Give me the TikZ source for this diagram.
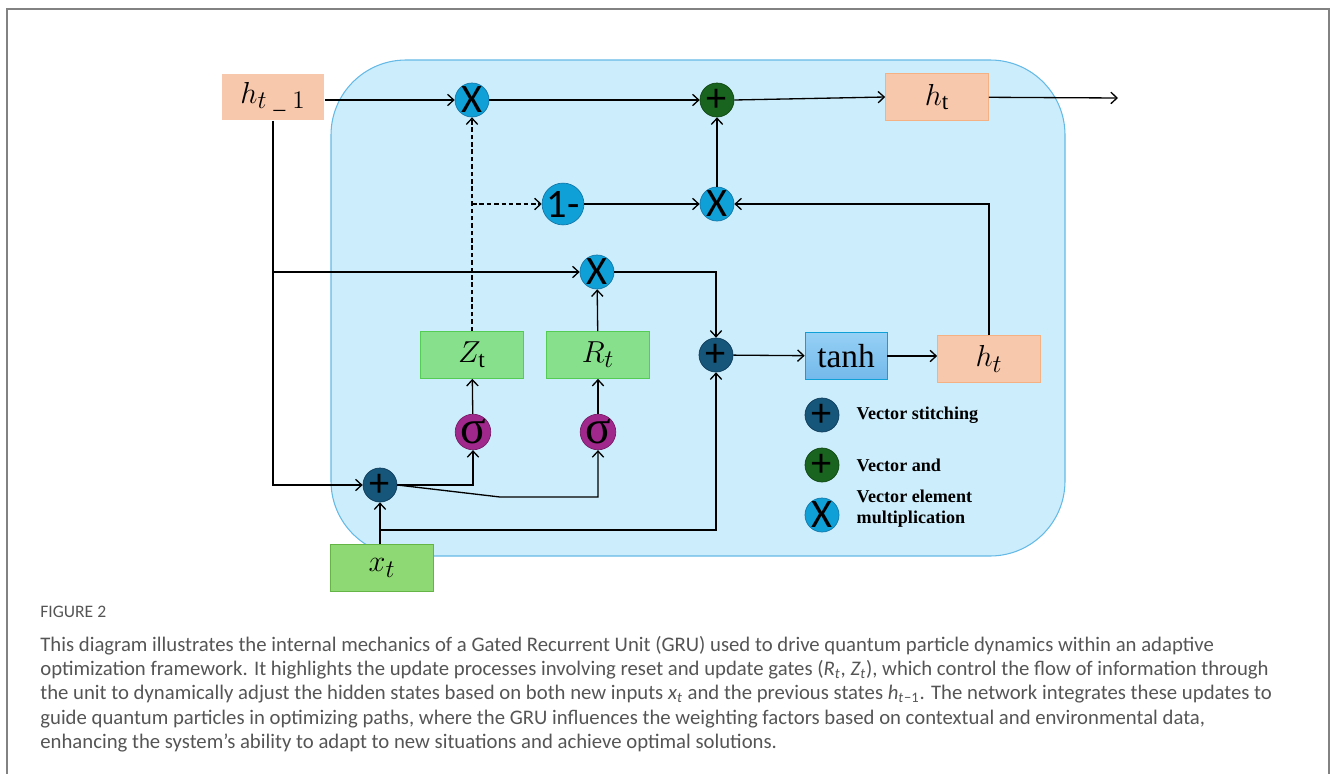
\documentclass[tikz,border=0pt]{standalone}
\usepackage{amsmath}
\usepackage{fontspec}
\setmainfont{Liberation Serif}
\newfontfamily\opfont{Carlito}
\newfontfamily\capfont{Carlito}
\usetikzlibrary{arrows.meta, positioning}
\definecolor{gruSky}{RGB}{204,237,251}
\definecolor{gruSkyLine}{RGB}{100,185,230}
\definecolor{gruSalmon}{RGB}{248,200,172}
\definecolor{gruSalmonLine}{RGB}{244,177,131}
\definecolor{gruGreen}{RGB}{135,225,140}
\definecolor{gruGreenLine}{RGB}{85,205,85}
\definecolor{gruLime}{RGB}{142,217,115}
\definecolor{gruLimeLine}{RGB}{100,180,70}
\definecolor{gruCyan}{RGB}{15,160,215}
\definecolor{gruCyanLine}{RGB}{20,120,170}
\definecolor{gruNavy}{RGB}{22,86,122}
\definecolor{gruNavyLine}{RGB}{15,60,90}
\definecolor{gruForest}{RGB}{25,100,30}
\definecolor{gruForestLine}{RGB}{15,70,20}
\definecolor{gruPurple}{RGB}{160,40,140}
\definecolor{gruPurpleLine}{RGB}{120,30,105}
\definecolor{gruFrame}{RGB}{130,130,130}
\definecolor{gruText}{RGB}{85,85,85}

\begin{document}
\begin{tikzpicture}[
      x=0.02cm, y=-0.02cm,
      box/.style={rectangle, draw, minimum width=2.06cm, minimum height=0.94cm,
        inner sep=0pt, font=\fontsize{19}{22}\selectfont},
      hbox/.style={box, fill=gruSalmon, draw=gruSalmonLine},
      gbox/.style={box, fill=gruGreen, draw=gruGreenLine},
      op/.style={circle, draw, minimum size=0.68cm, inner sep=0pt,
        font=\opfont\fontsize{23}{23}\selectfont},
      mult/.style={op, fill=gruCyan, draw=gruCyanLine},
      stitch/.style={op, fill=gruNavy, draw=gruNavyLine},
      vadd/.style={op, fill=gruForest, draw=gruForestLine},
      sig/.style={op, fill=gruPurple, draw=gruPurpleLine, font=\fontsize{27}{27}\selectfont},
      arrow/.style={-{Straight Barb[length=3.5pt,width=6.5pt]}, line width=0.75pt},
      gateline/.style={dash pattern=on 2.6pt off 1.6pt},
      legend/.style={font=\bfseries\fontsize{10.3}{12}\selectfont, align=left, inner sep=0pt},
      caption/.style={anchor=west, inner sep=0pt, text=gruText,
        font=\capfont\fontsize{11.8}{13}\selectfont}
    ]
      \useasboundingbox (0,0) rectangle (1332,774);

      % Frame and cell
      \draw[gruFrame, line width=1.1pt] (7,774) -- (7,9) -- (1329,9) -- (1329,774);
      \draw[fill=gruSky, draw=gruSkyLine, line width=0.6pt, rounded corners=1.5cm]
        (331,60) rectangle (1065,556);

      % States
      \node[hbox, draw=none] (hprev) at (273,97) {$h_{t\;\text{\_}\;1}$};
      \node[hbox] (hnew) at (937,97) {$h_{\mathrm{t}}$};
      \node[hbox] (hcand) at (989,359) {$h_t$};
      \node[box, fill=gruLime, draw=gruLimeLine] (xt) at (382,568) {$x_t$};

      % Gates
      \node[gbox] (zt) at (472,355) {$Z_{\mathrm{t}}$};
      \node[gbox] (rt) at (598,355) {$R_t$};
      \node[box, top color={rgb,255:red,150;green,208;blue,245},
        bottom color={rgb,255:red,115;green,185;blue,235}, draw=gruCyan,
        minimum width=1.64cm, font=\fontsize{19}{22}\selectfont] (tanh) at (846,356) {tanh};

      % Operations
      \node[mult] (x1) at (472,100) {X};
      \node[vadd] (add) at (717,100) {+};
      \node[mult] (one) at (563,204) {1-};
      \node[mult] (x2) at (717,204) {X};
      \node[mult] (x3) at (597,272) {X};
      \node[stitch] (sc) at (716,355) {+};
      \node[sig] (sig1) at (473,432) {σ};
      \node[sig] (sig2) at (598,432) {σ};
      \node[stitch] (sx) at (380,485) {+};

      % Draw arrows
      \coordinate (out) at (1118,98);
      \draw[arrow] (hprev.east |- x1.west) -- (x1.west);
      \draw[arrow] (x1) -- (add);
      \draw[arrow] (add.east) -- (hnew.west);
      \draw[arrow] (hnew) -- (out);
      \draw[arrow] (x2) -- (add);
      \draw[arrow] (one) -- (x2);
      \draw[arrow] (hcand.north) |- (x2.east);
      \draw[arrow, gateline] (zt.north) -- (x1.south);
      \coordinate (zsplit) at (zt.north |- one.west);
      \draw[arrow, gateline] (zsplit) -- (one.west);
      \draw[arrow] (hprev.south) |- (sx.west);
      \coordinate (hsplit) at (hprev.south |- x3.west);
      \draw[arrow] (hsplit) -- (x3.west);
      \draw[arrow] (x3.east) -| (sc.north);
      \draw[arrow] (rt) -- (x3);
      \draw[arrow] (sc) -- (tanh);
      \draw[arrow] (tanh.east) -- (hcand.west |- tanh.east);
      \draw[arrow] (sig1) -- (zt);
      \draw[arrow] (sig2) -- (rt);
      \draw[arrow] (sx.east) -| (sig1.south);
      \coordinate (bend) at (500,497);
      \draw[arrow] (sx.east) -- (bend) -| (sig2.south);
      \draw[arrow] (xt.north -| sx.south) -- (sx.south);
      \coordinate (xsplit) at (381,530);
      \draw[arrow] (xsplit) -| (sc.south);

      % Legend
      \node[stitch] (lg1) at (822,415) {+};
      \node[vadd] (lg2) at (822,465) {+};
      \node[mult] (lg3) at (822,515) {X};
      \node[legend, right=0.34cm of lg1] {Vector stitching};
      \node[legend, right=0.34cm of lg2] {Vector and};
      \node[legend, right=0.34cm of lg3, yshift=0.12cm] {Vector element\\multiplication};

      % Caption
      \node[caption, font=\capfont\fontsize{10}{11}\selectfont] (fig) at (40,612) {FIGURE 2};
      \node[caption] (cap1) at (40,646) {This diagram illustrates the internal mechanics of a Gated Recurrent Unit (GRU) used to drive quantum particle dynamics within an adaptive};
      \node[caption] (cap2) at (40,670) {optimization framework. It highlights the update processes involving reset and update gates ({\itshape R\textsubscript{t}}, {\itshape Z\textsubscript{t}}), which control the flow of information through};
      \node[caption] (cap3) at (40,694) {the unit to dynamically adjust the hidden states based on both new inputs {\itshape x\textsubscript{t}} and the previous states {\itshape h\textsubscript{t}}\textsubscript{−1}. The network integrates these updates to};
      \node[caption] (cap4) at (40,719) {guide quantum particles in optimizing paths, where the GRU influences the weighting factors based on contextual and environmental data,};
      \node[caption] (cap5) at (40,743) {enhancing the system’s ability to adapt to new situations and achieve optimal solutions.};
    \end{tikzpicture}
\end{document}
